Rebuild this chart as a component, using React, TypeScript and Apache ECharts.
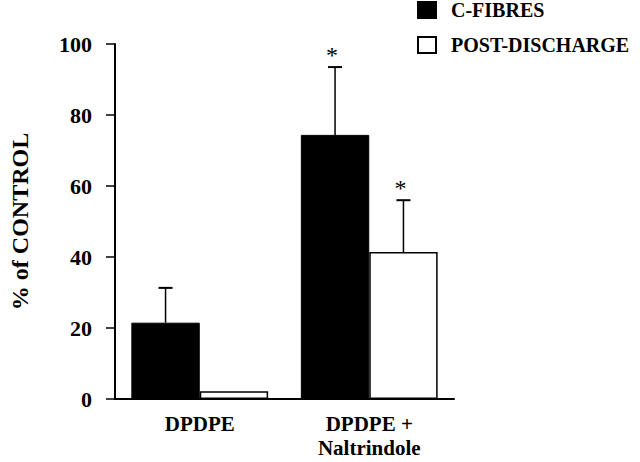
import React, { useEffect, useRef } from "react";
import * as echarts from "echarts";

const categories = ["DPDPE", "DPDPE +\nNaltrindole"];
const seriesNames = ["C-FIBRES", "POST-DISCHARGE"];
const cFibres = [21.5, 74.4];
const postDischarge = [2.2, 41.4];
const cFibresErrTop = [31.3, 93.5];
const postDischargeErrTop = [null, 56];
const cFibresSig = [false, true];
const postDischargeSig = [false, true];
const yTicks = { min: 0, max: 100, interval: 20 };

const FONT = "Liberation Serif";
const CAT_GAP = 0.193;

export default function App() {
  const ref = useRef<HTMLDivElement>(null);
  useEffect(() => {
    const chart = echarts.init(ref.current!, null, { renderer: "svg" });

    const errData: any[] = [];
    cFibres.forEach((v, i) => {
      if (cFibresErrTop[i] != null) errData.push([i, v, cFibresErrTop[i], -1, cFibresSig[i] ? 1 : 0]);
    });
    postDischarge.forEach((v, i) => {
      if (postDischargeErrTop[i] != null) errData.push([i, v, postDischargeErrTop[i], 1, postDischargeSig[i] ? 1 : 0]);
    });

    const option: any = {
      animation: false,
      backgroundColor: "#ffffff",
      textStyle: { fontFamily: FONT },
      legend: {
        orient: "vertical",
        left: 417,
        top: 0,
        padding: 0,
        itemWidth: 18,
        itemHeight: 16,
        itemGap: 15,
        icon: "rect",
        data: seriesNames,
        textStyle: {
          fontFamily: FONT,
          fontWeight: "bold",
          fontSize: 20,
          color: "#000",
          padding: [0, 0, 0, 10],
        },
      },
      grid: { left: 102, right: 186, top: 44, bottom: 63 },
      xAxis: {
        type: "category",
        data: categories,
        axisLine: { lineStyle: { color: "#000", width: 2 } },
        axisTick: { alignWithLabel: true, length: 7, lineStyle: { color: "#000", width: 1.5 } },
        axisLabel: {
          color: "#000",
          fontFamily: FONT,
          fontWeight: "bold",
          fontSize: 21,
          margin: 13,
          lineHeight: 24,
        },
      },
      yAxis: {
        type: "value",
        min: yTicks.min,
        max: yTicks.max,
        interval: yTicks.interval,
        name: "% of CONTROL",
        nameLocation: "middle",
        nameGap: 83,
        nameTextStyle: { color: "#000", fontFamily: FONT, fontWeight: "bold", fontSize: 24 },
        splitLine: { show: false },
        axisLine: { show: true, lineStyle: { color: "#000", width: 2 } },
        axisTick: { show: true, length: 9, lineStyle: { color: "#000", width: 1.5 } },
        axisLabel: { color: "#000", fontFamily: FONT, fontWeight: "bold", fontSize: 22, margin: 23 },
      },
      series: [
        {
          name: seriesNames[0],
          type: "bar",
          data: cFibres,
          barGap: "0%",
          barCategoryGap: CAT_GAP * 100 + "%",
          itemStyle: { color: "#000", borderColor: "#000", borderWidth: 1 },
        },
        {
          name: seriesNames[1],
          type: "bar",
          data: postDischarge,
          barGap: "0%",
          barCategoryGap: CAT_GAP * 100 + "%",
          itemStyle: { color: "#fff", borderColor: "#000", borderWidth: 1.5 },
        },
        {
          type: "custom",
          data: errData,
          z: 5,
          renderItem: (params: any, api: any) => {
            const cat = api.value(0);
            const low = api.value(1);
            const high = api.value(2);
            const side = api.value(3);
            const sig = api.value(4);
            const band = api.size([1, 0])[0];
            const barW = (band * (1 - CAT_GAP)) / 2;
            const base = api.coord([cat, low]);
            const top = api.coord([cat, high]);
            const x = base[0] + side * barW / 2;
            const cap = 7;
            const children: any[] = [
              { type: "line", shape: { x1: x, y1: base[1], x2: x, y2: top[1] }, style: { stroke: "#000", lineWidth: 1.5 } },
              { type: "line", shape: { x1: x - cap, y1: top[1], x2: x + cap, y2: top[1] }, style: { stroke: "#000", lineWidth: 2 } },
            ];
            if (sig) {
              children.push({
                type: "text",
                style: {
                  x: x - 3,
                  y: top[1] - 12,
                  text: "*",
                  fill: "#000",
                  fontFamily: FONT,
                  fontSize: 24,
                  align: "center",
                  verticalAlign: "middle",
                },
              });
            }
            return { type: "group", children };
          },
        },
      ],
    };
    chart.setOption(option);
    return () => chart.dispose();
  }, []);
  return <div ref={ref} style={{ position: "absolute", left: 0, top: 0, width: 640, height: 462 }} />;
}
